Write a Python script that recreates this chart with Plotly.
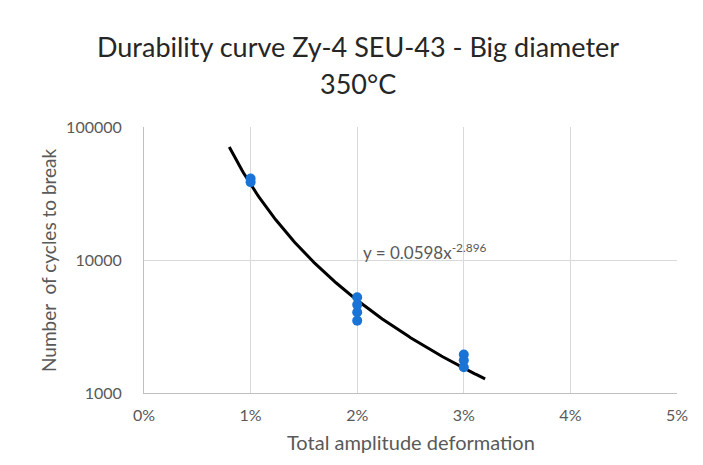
import numpy as np
import plotly.graph_objects as go

# ---- data ----
strain = [0.01, 0.01, 0.02, 0.02, 0.02, 0.02, 0.03, 0.03, 0.03]
cycles = [41000, 38500, 5250, 4600, 4050, 3500, 1950, 1760, 1560]

# power trendline shown on the chart: y = 0.0598 x^-2.896
TREND_A = 0.0598
TREND_B = -2.896
TREND_X_START = 0.008
TREND_X_END = 0.032

x_tickvals = [0, 0.01, 0.02, 0.03, 0.04, 0.05]
x_ticktext = ["0%", "1%", "2%", "3%", "4%", "5%"]
y_tickvals = [1000, 10000, 100000]
y_ticktext = ["1000", "10000", "100000"]

title_line1 = "Durability curve Zy-4 SEU-43 - Big diameter"
title_line2 = "350°C"
x_title = "Total amplitude deformation"
y_title = "Number  of cycles to break"
eq_text = "y = 0.0598x<sup>-2.896</sup>"

FONT = "Lato"
GRID = "#d9d9d9"
TXT = "#595959"

tx = np.linspace(TREND_X_START, TREND_X_END, 200)
ty = TREND_A * tx ** TREND_B

fig = go.Figure()
fig.add_trace(go.Scatter(x=tx, y=ty, mode="lines",
                         line=dict(color="black", width=3),
                         hoverinfo="skip", showlegend=False))
fig.add_trace(go.Scatter(x=strain, y=cycles, mode="markers",
                         marker=dict(color="#1a74d6", size=10),
                         showlegend=False))

# page has an 8px body margin: figure origin sits at (8, 8)
OFF = 8
W, H = 703 - 2 * OFF, 465 - 2 * OFF
L = 144 - OFF
T = 127 - OFF
R = W - (677 - OFF)
B = H - (393 - OFF)
PW = W - L - R
PH = H - T - B


def px_x(px):
    return (px - OFF - L) / PW


def px_y(py):
    return 1 - (py - OFF - T) / PH


fig.update_layout(
    width=W, height=H, autosize=False,
    margin=dict(l=L, r=R, t=T, b=B, pad=0, autoexpand=False),
    paper_bgcolor="white", plot_bgcolor="white",
    font=dict(family=FONT, color=TXT),
    showlegend=False,
    xaxis=dict(range=[0, 0.05], tickvals=x_tickvals, ticktext=x_ticktext,
               showgrid=True, gridcolor=GRID, gridwidth=1,
               showline=True, linecolor="#bfbfbf", linewidth=1,
               zeroline=False, ticks="", tickfont=dict(size=16, color=TXT),
               ticklabelstandoff=8, automargin=False),
    yaxis=dict(type="log", range=[3, 5], tickvals=y_tickvals, ticktext=y_ticktext,
               showgrid=True, gridcolor=GRID, gridwidth=1,
               showline=True, linecolor="#bfbfbf", linewidth=1,
               zeroline=False, ticks="", tickfont=dict(size=16, color=TXT),
               ticklabelstandoff=18, automargin=False),
    annotations=[
        dict(text=title_line1, xref="paper", yref="paper",
             x=px_x(358), y=px_y(46),
             xanchor="center", yanchor="middle", showarrow=False,
             font=dict(size=27, color="#262626", family=FONT)),
        dict(text=title_line2, xref="paper", yref="paper",
             x=px_x(358), y=px_y(83),
             xanchor="center", yanchor="middle", showarrow=False,
             font=dict(size=27, color="#262626", family=FONT)),
        dict(text=x_title, xref="paper", yref="paper",
             x=0.5, y=px_y(442),
             xanchor="center", yanchor="middle", showarrow=False,
             font=dict(size=20, color=TXT, family=FONT)),
        dict(text=y_title, xref="paper", yref="paper",
             x=px_x(48), y=0.5, textangle=-90,
             xanchor="center", yanchor="middle", showarrow=False,
             font=dict(size=19, color=TXT, family=FONT)),
        dict(text=eq_text, xref="x", yref="y",
             x=0.0204, y=3.962,
             xanchor="left", yanchor="bottom", showarrow=False,
             font=dict(size=17, color=TXT, family=FONT)),
    ],
)

fig.write_html("out.html", config={"responsive": False})
